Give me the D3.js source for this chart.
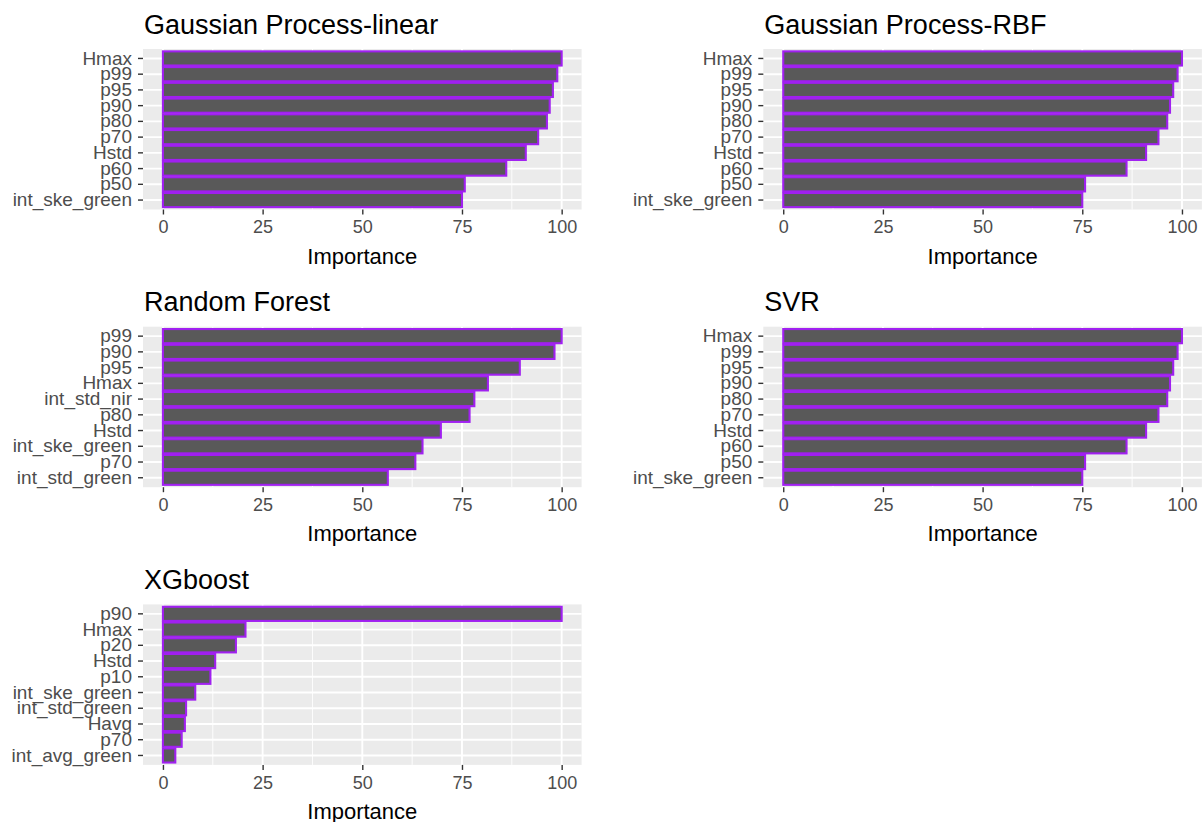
<!DOCTYPE html>
<html>
<head>
<meta charset="utf-8">
<script src="https://cdn.jsdelivr.net/npm/d3@7"></script>
<style>
  html, body { margin: 0; padding: 0; background: #ffffff; }
  svg { display: block; font-family: "Liberation Sans", Arial, sans-serif; }
</style>
</head>
<body>
<svg id="chart" width="1203" height="822"></svg>
<script>
// Variable importance (scaled 0-100) for each regression model, top 10 features
const gpLinearFeatures = ["Hmax", "p99", "p95", "p90", "p80", "p70", "Hstd", "p60", "p50", "int_ske_green"];
const gpLinearValues   = [100, 98.9, 97.8, 97.0, 96.3, 94.1, 91.0, 86.1, 75.7, 75.0];

const gpRbfFeatures = ["Hmax", "p99", "p95", "p90", "p80", "p70", "Hstd", "p60", "p50", "int_ske_green"];
const gpRbfValues   = [100, 98.9, 97.8, 97.0, 96.3, 94.1, 91.0, 86.1, 75.7, 75.0];

const rfFeatures = ["p99", "p90", "p95", "Hmax", "int_std_nir", "p80", "Hstd", "int_ske_green", "p70", "int_std_green"];
const rfValues   = [100, 98.2, 89.5, 81.5, 78.1, 76.9, 69.7, 65.1, 63.3, 56.4];

const svrFeatures = ["Hmax", "p99", "p95", "p90", "p80", "p70", "Hstd", "p60", "p50", "int_ske_green"];
const svrValues   = [100, 98.9, 97.8, 97.0, 96.3, 94.1, 91.0, 86.1, 75.7, 75.0];

const xgbFeatures = ["p90", "Hmax", "p20", "Hstd", "p10", "int_ske_green", "int_std_green", "Havg", "p70", "int_avg_green"];
const xgbValues   = [100, 20.7, 18.3, 13.1, 11.9, 8.1, 5.8, 5.5, 4.7, 3.1];

const modelTitles = ["Gaussian Process-linear", "Gaussian Process-RBF", "Random Forest", "SVR", "XGboost"];
const xTicks = [0, 25, 50, 75, 100];
const xMinorTicks = [12.5, 37.5, 62.5, 87.5];
const xAxisTitle = "Importance";

const panels = [
  { title: modelTitles[0], features: gpLinearFeatures, values: gpLinearValues, col: 0, row: 0 },
  { title: modelTitles[1], features: gpRbfFeatures,    values: gpRbfValues,    col: 1, row: 0 },
  { title: modelTitles[2], features: rfFeatures,       values: rfValues,       col: 0, row: 1 },
  { title: modelTitles[3], features: svrFeatures,      values: svrValues,      col: 1, row: 1 },
  { title: modelTitles[4], features: xgbFeatures,      values: xgbValues,      col: 0, row: 2 }
];

// layout of the 3x2 grid of panels
const colLeft = [143, 763.3];
const panelWidth = 438.6;
const rowTop = [49, 326.7, 604.4];
const panelHeight = 160.5;

const svg = d3.select("#chart");

panels.forEach(p => {
  const left = colLeft[p.col];
  const top = rowTop[p.row];
  const right = left + panelWidth;
  const bottom = top + panelHeight;

  const x = d3.scaleLinear().domain([-5, 105]).range([left, right]);
  const y = d3.scaleBand().domain(p.features).range([top, bottom])
    .paddingInner(0.1).paddingOuter(0.15);
  const yc = d => y(d) + y.bandwidth() / 2;

  const g = svg.append("g");

  // panel background
  g.append("rect")
    .attr("x", left).attr("y", top)
    .attr("width", panelWidth).attr("height", panelHeight)
    .attr("fill", "#EBEBEB");

  // minor vertical grid
  g.selectAll(".minor").data(xMinorTicks).enter().append("line")
    .attr("x1", d => x(d)).attr("x2", d => x(d))
    .attr("y1", top).attr("y2", bottom)
    .attr("stroke", "#ffffff").attr("stroke-width", 0.9);

  // major vertical grid
  g.selectAll(".majorx").data(xTicks).enter().append("line")
    .attr("x1", d => x(d)).attr("x2", d => x(d))
    .attr("y1", top).attr("y2", bottom)
    .attr("stroke", "#ffffff").attr("stroke-width", 1.9);

  // major horizontal grid at each feature
  g.selectAll(".majory").data(p.features).enter().append("line")
    .attr("x1", left).attr("x2", right)
    .attr("y1", d => yc(d)).attr("y2", d => yc(d))
    .attr("stroke", "#ffffff").attr("stroke-width", 1.9);

  // bars
  g.selectAll(".bar").data(p.features).enter().append("rect")
    .attr("x", x(0))
    .attr("y", d => y(d))
    .attr("width", (d, i) => x(p.values[i]) - x(0))
    .attr("height", y.bandwidth())
    .attr("fill", "#595959")
    .attr("stroke", "#A020F0")
    .attr("stroke-width", 2.1);

  // x axis
  const xAxis = g.append("g")
    .attr("transform", `translate(0,${bottom})`)
    .call(d3.axisBottom(x).tickValues(xTicks).tickSize(5).tickPadding(6));
  xAxis.select(".domain").remove();
  xAxis.selectAll(".tick line").attr("stroke", "#333333").attr("stroke-width", 1.4);
  xAxis.selectAll(".tick text")
    .attr("fill", "#4D4D4D")
    .style("font-size", "18px")
    .style("font-family", "'Liberation Sans', Arial, sans-serif");

  // y axis
  const yAxis = g.append("g")
    .attr("transform", `translate(${left},0)`)
    .call(d3.axisLeft(y).tickSize(5).tickPadding(6));
  yAxis.select(".domain").remove();
  yAxis.selectAll(".tick line").attr("stroke", "#333333").attr("stroke-width", 1.4);
  yAxis.selectAll(".tick text")
    .attr("fill", "#4D4D4D")
    .style("font-size", "19px")
    .style("font-family", "'Liberation Sans', Arial, sans-serif");

  // axis title
  g.append("text")
    .attr("x", (left + right) / 2)
    .attr("y", bottom + 54)
    .attr("text-anchor", "middle")
    .attr("fill", "#000000")
    .style("font-size", "22px")
    .text(xAxisTitle);

  // panel title
  g.append("text")
    .attr("x", left + 1)
    .attr("y", top - 15.5)
    .attr("fill", "#000000")
    .style("font-size", "27px")
    .text(p.title);
});
</script>
</body>
</html>
